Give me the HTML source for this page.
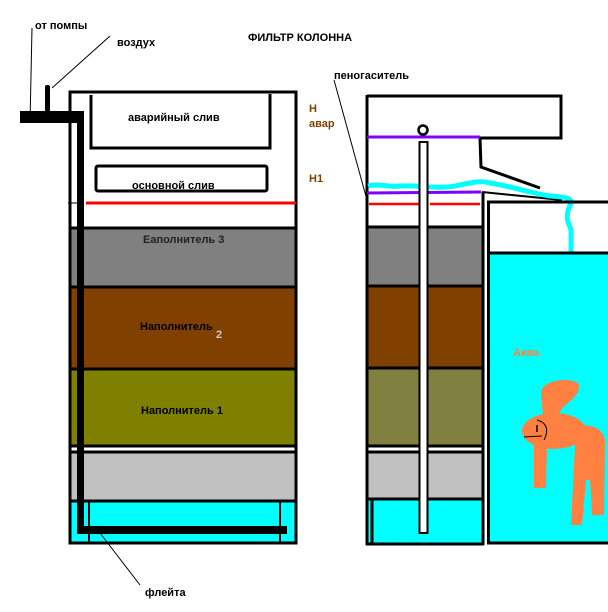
<!DOCTYPE html>
<html><head><meta charset="utf-8"><style>
html,body{margin:0;padding:0;background:#fff;}
svg{display:block}
text{font-family:"Liberation Sans",sans-serif;font-size:11px;font-weight:bold;}
</style></head><body>
<svg width="608" height="612" viewBox="0 0 608 612" xmlns="http://www.w3.org/2000/svg">
<rect width="608" height="612" fill="#fff"/>
<rect x="69" y="228" width="228" height="59" fill="#808080"/>
<rect x="69" y="287" width="228" height="82" fill="#804000"/>
<rect x="69" y="369" width="228" height="77" fill="#808000"/>
<rect x="69" y="452" width="228" height="49" fill="#c0c0c0"/>
<rect x="69" y="501" width="228" height="43" fill="#00ffff"/>
<g stroke="#000" stroke-width="3">
<line x1="69" y1="228" x2="297" y2="228"/>
<line x1="69" y1="287" x2="297" y2="287"/>
<line x1="69" y1="369" x2="297" y2="369"/>
<line x1="69" y1="446" x2="297" y2="446"/>
<line x1="69" y1="452" x2="297" y2="452"/>
<line x1="69" y1="501" x2="297" y2="501"/>
</g>
<rect x="70" y="92" width="226" height="451" fill="none" stroke="#000" stroke-width="3"/>
<polyline points="91,95 91,148 270,148 270,94" fill="none" stroke="#000" stroke-width="3"/>
<rect x="96" y="166" width="171" height="25" rx="2" fill="none" stroke="#000" stroke-width="3"/>
<line x1="86" y1="203" x2="296" y2="203" stroke="#f00" stroke-width="3"/>
<line x1="68" y1="203" x2="82" y2="203" stroke="#000" stroke-width="1"/>
<rect x="20" y="111" width="64" height="12" fill="#000"/>
<rect x="77" y="111" width="7" height="420" fill="#000"/>
<rect x="77" y="526" width="210" height="8" fill="#000"/>
<line x1="89" y1="502" x2="89" y2="544" stroke="#000" stroke-width="2"/>
<line x1="280" y1="502" x2="280" y2="544" stroke="#000" stroke-width="2"/>
<rect x="45" y="85" width="5" height="27" rx="2" fill="#000"/>
<line x1="32" y1="28" x2="30" y2="123" stroke="#000" stroke-width="1"/>
<line x1="52" y1="88" x2="110" y2="36" stroke="#000" stroke-width="1"/>
<line x1="100" y1="533" x2="140" y2="585" stroke="#000" stroke-width="1"/>
<text x="35" y="29">от помпы</text>
<text x="117" y="46" font-weight="normal">воздух</text>
<text x="248" y="41">ФИЛЬТР КОЛОННА</text>
<text x="128" y="121">аварийный слив</text>
<text x="132" y="189">основной слив</text>
<text x="143" y="243" fill="#222">Еаполнитель 3</text>
<text x="140" y="330">Наполнитель</text>
<text x="216" y="338" fill="#ccc" font-size="10">2</text>
<text x="141" y="414">Наполнитель 1</text>
<text x="145" y="596" font-weight="normal">флейта</text>
<text x="309" y="112" fill="#804000">Н</text>
<text x="309" y="127" fill="#804000">авар</text>
<text x="309" y="182" fill="#804000">Н1</text>
<text x="334" y="79">пеногаситель</text>
<line x1="334" y1="80" x2="367" y2="200" stroke="#000" stroke-width="1"/>
<rect x="367" y="228" width="116" height="58" fill="#808080"/>
<rect x="367" y="286" width="116" height="82" fill="#804000"/>
<rect x="367" y="368" width="116" height="78" fill="#808040"/>
<rect x="367" y="452" width="116" height="46" fill="#c0c0c0"/>
<rect x="367" y="499" width="116" height="45" fill="#00ffff"/>
<g stroke="#000" stroke-width="3">
<line x1="367" y1="227" x2="483" y2="227"/>
<line x1="367" y1="286" x2="483" y2="286"/>
<line x1="367" y1="368" x2="483" y2="368"/>
<line x1="367" y1="446" x2="483" y2="446"/>
<line x1="367" y1="452" x2="483" y2="452"/>
<line x1="367" y1="499" x2="483" y2="499"/>
<line x1="367" y1="95" x2="367" y2="545"/>
<line x1="366" y1="544" x2="484" y2="544"/>
<line x1="483" y1="192" x2="483" y2="545"/>
<line x1="372" y1="500" x2="372" y2="544"/>
</g>
<polyline points="367,96 561,96 561,138 480,138 481,167 540,188" fill="none" stroke="#000" stroke-width="3"/>
<line x1="482" y1="192" x2="562" y2="200" stroke="#000" stroke-width="2"/>
<line x1="367" y1="137" x2="480" y2="137" stroke="#8000ff" stroke-width="3"/>
<circle cx="423" cy="130" r="4.5" fill="none" stroke="#000" stroke-width="2.5"/>
<path d="M368,186 C380,183 390,188 400,186 C420,185 440,190 460,185 C470,183 480,180 490,183 C510,186 530,193 550,196 C565,197 572,198 571,203 C568,210 566,215 568,222 L571,230 L571,253" fill="none" stroke="#00ffff" stroke-width="5"/>
<line x1="367" y1="193" x2="481" y2="192" stroke="#8000ff" stroke-width="3"/>
<line x1="369" y1="204" x2="419" y2="204" stroke="#f00" stroke-width="2.5"/>
<line x1="430" y1="204" x2="480" y2="204" stroke="#f00" stroke-width="2.5"/>
<rect x="419.5" y="142" width="8" height="391" fill="#fff" stroke="#000" stroke-width="2"/>
<rect x="487" y="253" width="121" height="290" fill="#00ffff"/>
<polyline points="612,202 488.5,202 488.5,543 612,543" fill="none" stroke="#000" stroke-width="3"/>
<line x1="488" y1="253" x2="608" y2="253" stroke="#000" stroke-width="3"/>
<text x="513" y="356" fill="#ff8040" font-weight="normal">Аква</text>
<g fill="#ff8040" stroke="none">
<ellipse cx="554" cy="431" rx="32" ry="18"/>
<path d="M541,392 C542,382 565,376 578,383 C582,392 572,400 563,407 L556,418 L543,416 Z"/>
<path d="M534,444 L547,444 L546,488 L534,488 Z"/>
<path d="M572,430 C580,422 602,424 605,440 L604,515 L592,515 L590,480 L586,480 L582,525 L571,525 L575,445 Z"/>
</g>
<path d="M524,437 L542,436 M537,420 C545,422 550,428 544,440" fill="none" stroke="#000" stroke-width="1"/>
<line x1="537" y1="425" x2="537" y2="432" stroke="#000" stroke-width="1.5"/>
</svg>
</body></html>
